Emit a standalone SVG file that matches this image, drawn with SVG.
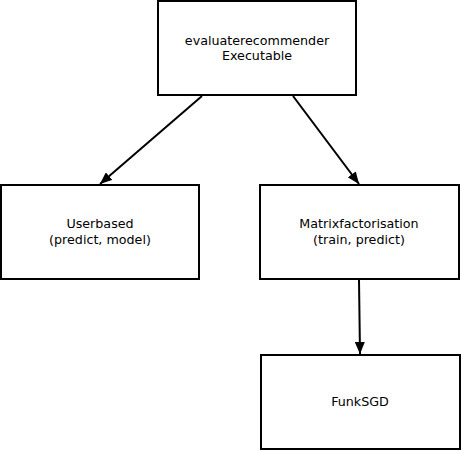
<svg xmlns="http://www.w3.org/2000/svg" width="461" height="451" viewBox="0 0 461 451">
<style>
.box{fill:#fff;stroke:#000;stroke-width:2}
.lbl{font-family:"DejaVu Sans",sans-serif;font-size:12.7px;text-anchor:middle;fill:#000}
.edge{stroke:#000;stroke-width:2;fill:none;marker-end:url(#ah)}
</style>
<defs>
<marker id="ah" viewBox="0 0 12 10" refX="12" refY="5" markerWidth="12" markerHeight="10" markerUnits="userSpaceOnUse" orient="auto">
<path d="M0,0 L12,5 L0,10 z" fill="#000"/>
</marker>
</defs>
<rect width="461" height="451" fill="#fff"/>
<g id="connectors">
<line class="edge" x1="202" y1="96" x2="100" y2="184"/>
<line class="edge" x1="293" y1="96" x2="359" y2="184"/>
<line class="edge" x1="359" y1="280" x2="360" y2="354"/>
</g>
<g id="evaluaterecommender">
<rect class="box" x="158" y="1" width="198" height="94"/>
<text class="lbl" x="257" y="45">evaluaterecommender</text>
<text class="lbl" x="257" y="60">Executable</text>
</g>
<g id="userbased">
<rect class="box" x="1" y="185" width="198" height="94"/>
<text class="lbl" x="100" y="228">Userbased</text>
<text class="lbl" x="100" y="244">(predict, model)</text>
</g>
<g id="matrixfactorisation">
<rect class="box" x="260" y="185" width="199" height="94"/>
<text class="lbl" x="359" y="228">Matrixfactorisation</text>
<text class="lbl" x="359" y="244">(train, predict)</text>
</g>
<g id="funksgd">
<rect class="box" x="261" y="355" width="199" height="94"/>
<text class="lbl" x="360" y="406">FunkSGD</text>
</g>
</svg>
